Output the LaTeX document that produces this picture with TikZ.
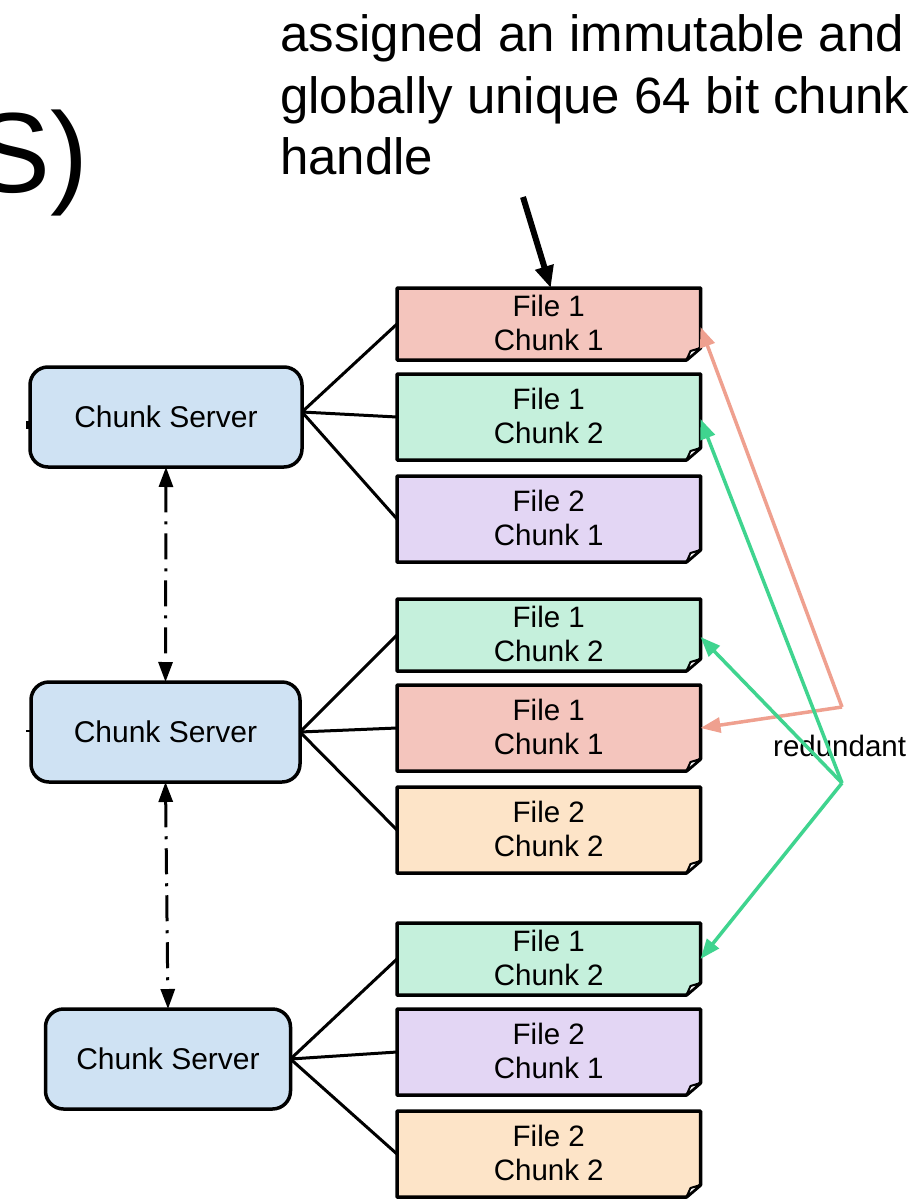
\documentclass[tikz,border=0pt]{standalone}
\usepackage{fontspec}
\setmainfont{Liberation Sans}
\usetikzlibrary{arrows.meta}
\definecolor{srvfill}{HTML}{CFE2F3}
\definecolor{cred}{HTML}{F4C5BD}
\definecolor{cgreen}{HTML}{C5F0DC}
\definecolor{cpurple}{HTML}{E3D6F4}
\definecolor{corange}{HTML}{FDE4C8}
\definecolor{apink}{HTML}{EFA08F}
\definecolor{agreen}{HTML}{3FD48F}
\tikzset{
  chunkshape/.style={rectangle, minimum width=303.5pt, inner sep=0pt, outer sep=0pt},
  boxtext/.style={anchor=base, inner sep=0pt, font=\fontsize{29.5pt}{34pt}\selectfont},
  server/.style={rectangle, rounded corners=18pt, draw=black, line width=3.5pt, fill=srvfill,
    inner sep=0pt, outer sep=0pt, font=\fontsize{30pt}{34pt}\selectfont},
  conn/.style={draw=black, line width=3pt},
  dashdotarrow/.style={draw=black, line width=3pt, dash pattern=on 26pt off 9pt on 3pt off 9pt,
    {Triangle[length=20pt,width=14pt]}-{Triangle[length=20pt,width=14pt]}},
  pinkarrow/.style={draw=apink, line width=3.5pt, -{Triangle[length=20pt,width=15pt]}},
  greenarrow/.style={draw=agreen, line width=3.5pt, -{Triangle[length=20pt,width=15pt]}},
  toptext/.style={anchor=base west, inner sep=0pt, font=\fontsize{51pt}{61pt}\selectfont},
}
\newcommand\chunkbox[6]{%
  \node[chunkshape, minimum height={#3-#2}] (#1) at (548.75,{(#2+#3)/2}) {};
  \path[fill=#4, draw=black, line width=3.5pt, line join=round]
    (#1.north west) -- (#1.north east) -- ([yshift=12pt]#1.south east)
    -- ([xshift=-14pt]#1.south east) -- (#1.south west) -- cycle;
  \path[fill=white, draw=black, line width=2pt, line join=round]
    ([xshift=-14pt]#1.south east) -- ([xshift=-10pt,yshift=9pt]#1.south east)
    -- ([yshift=12pt]#1.south east) -- cycle;
  \node[boxtext] (#1-a) at ([yshift=8pt]#1.center) {#5};
  \node[boxtext] (#1-b) at ([yshift=-26pt]#1.center) {#6};
}
\begin{document}
\begin{tikzpicture}[x=1pt,y=-1pt]
\useasboundingbox (0,0) rectangle (917,1199);
\clip (0,0) rectangle (917,1199);
\fill[white] (0,0) rectangle (917,1199);

% title remnant and annotation
\node[anchor=base west, inner sep=0pt, font=\fontsize{114pt}{136pt}\selectfont] (title) at (-26,192) {S)};
\node[toptext] (t1) at (280,52) {assigned an immutable and};
\node[toptext] (t2) at (280,113) {globally unique 64 bit chunk};
\node[toptext] (t3) at (280,174) {handle};

% small remnants at the left edge
\draw[line width=3pt] (27,421) -- (27,429);
\draw[line width=2.5pt] (26,731) -- (32,731);

% chunk servers
\node[server, minimum width=272pt, minimum height=100pt] (s1) at (166,417) {Chunk Server};
\node[server, minimum width=269pt, minimum height=100pt] (s2) at (165.5,732) {Chunk Server};
\node[server, minimum width=245pt, minimum height=100pt] (s3) at (168,1059) {Chunk Server};

% chunks
\chunkbox{b1}{288}{360}{cred}{File 1}{Chunk 1}
\chunkbox{b2}{374}{460}{cgreen}{File 1}{Chunk 2}
\chunkbox{b3}{476}{562}{cpurple}{File 2}{Chunk 1}
\chunkbox{b4}{599}{671}{cgreen}{File 1}{Chunk 2}
\chunkbox{b5}{685}{771}{cred}{File 1}{Chunk 1}
\chunkbox{b6}{787}{873}{corange}{File 2}{Chunk 2}
\chunkbox{b7}{923}{995}{cgreen}{File 1}{Chunk 2}
\chunkbox{b8}{1009}{1095}{cpurple}{File 2}{Chunk 1}
\chunkbox{b9}{1111}{1197}{corange}{File 2}{Chunk 2}

% server to chunk connectors
\draw[conn] ([yshift=5pt]s1.east) -- (b1.west);
\draw[conn] ([yshift=5pt]s1.east) -- (b2.west);
\draw[conn] ([yshift=5pt]s1.east) -- (b3.west);
\draw[conn] (s2.east) -- (b4.west);
\draw[conn] (s2.east) -- (b5.west);
\draw[conn] (s2.east) -- (b6.west);
\draw[conn] (s3.east) -- (b7.west);
\draw[conn] (s3.east) -- (b8.west);
\draw[conn] (s3.east) -- (b9.west);

% server to server
\draw[dashdotarrow] (s1.south) -- (s2.north);
\draw[dashdotarrow] (s2.south) -- (s3.north);

% redundancy arrows
\node[anchor=base west, inner sep=0pt, font=\fontsize{29.5pt}{34pt}\selectfont] (red) at (773,756) {redundant};
\coordinate (pv) at (842,707);
\coordinate (gv) at (842,783);
\draw[pinkarrow] (pv) -- ([yshift=-3pt]b1.east);
\draw[pinkarrow] (pv) -- (b5.east);
\draw[greenarrow] (gv) -- ([yshift=-2pt]b2.east);
\draw[greenarrow] (gv) -- ([yshift=-2pt]b4.east);
\draw[greenarrow] (gv) -- (b7.east);

% handle arrow
\coordinate (hd) at (523,197);
\draw[line width=6pt, -{Triangle[length=22pt,width=18pt]}] (hd) -- ([xshift=2pt]b1.north);
\end{tikzpicture}
\end{document}
